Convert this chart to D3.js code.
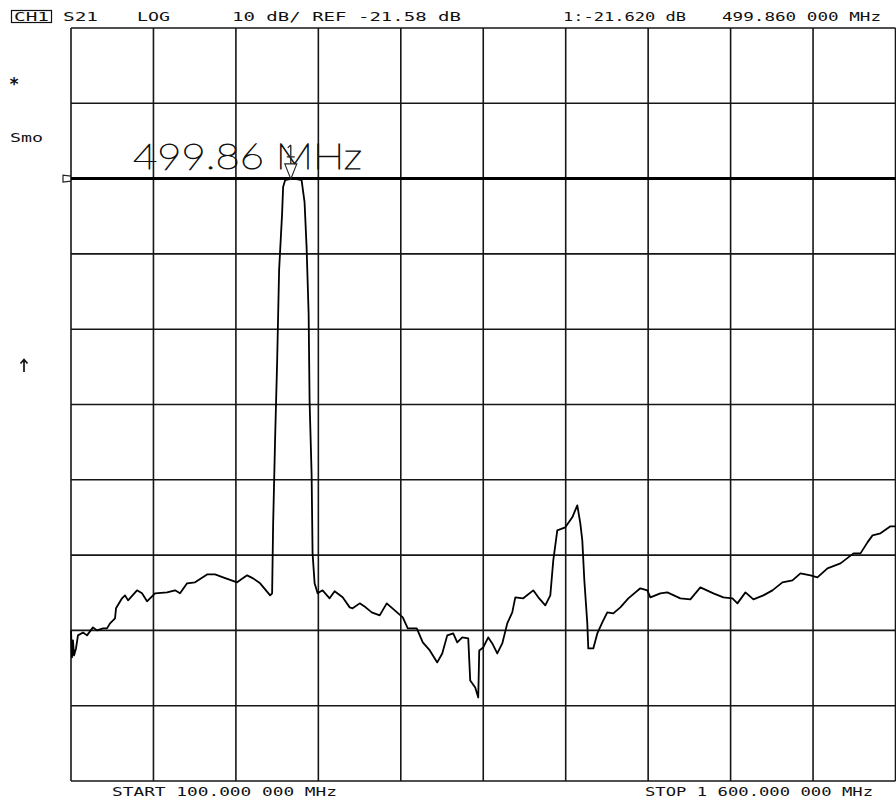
<!DOCTYPE html>
<html>
<head>
<meta charset="utf-8">
<script src="https://cdn.jsdelivr.net/npm/d3@7"></script>
<style>
  html, body { margin: 0; padding: 0; background: #fff; }
  svg { display: block; }
  .mono { font-family: "DejaVu Sans Mono", "Liberation Mono", monospace; fill: #111; }
</style>
</head>
<body>
<svg id="chart" width="896" height="802"></svg>
<script>
// S21 transmission sweep, 100 MHz to 1600 MHz, log magnitude (dB)
const freqMHz = [
  100, 101.8, 103.6, 105.5, 109.1, 112.7, 121.8, 129.1, 140.0, 147.3,
  158.3, 165.5, 171.0, 180.1, 181.9, 192.8, 198.3, 203.8, 220.1, 229.2,
  238.3, 252.9, 274.8, 289.3, 298.4, 311.2, 325.7, 347.6, 362.1, 376.7,
  402.2, 420.4, 431.3, 444.1, 462.3, 465.9, 467.7, 471.4, 475.0, 478.6,
  484.1, 485.9, 489.6, 499.9, 510.4, 519.5, 524.9, 528.6, 532.3, 534.1,
  537.7, 539.5, 543.2, 548.6, 557.7, 570.5, 579.6, 594.2, 607.0, 612.4,
  625.2, 636.1, 647.1, 661.6, 674.4, 689.0, 703.6, 712.7, 729.1, 740.0,
  752.8, 766.3, 775.4, 784.5, 795.4, 802.7, 811.8, 822.7, 826.3, 835.4,
  840.9, 842.7, 850.0, 859.1, 866.4, 875.5, 884.6, 893.7, 902.8, 908.3,
  922.8, 941.0, 950.1, 962.9, 972.0, 977.4, 984.7, 999.3, 1012.0, 1021.1,
  1026.6, 1030.2, 1033.9, 1039.3, 1041.1, 1050.2, 1057.5, 1066.6, 1075.7, 1086.6,
  1099.4, 1113.9, 1135.8, 1148.5, 1154.0, 1172.2, 1184.9, 1208.6, 1226.8, 1245.0,
  1268.7, 1286.9, 1303.3, 1312.4, 1327.0, 1341.5, 1359.7, 1376.1, 1394.3, 1412.5,
  1427.1, 1445.3, 1458.0, 1476.2, 1499.9, 1523.6, 1536.3, 1549.0, 1558.2, 1572.7,
  1590.9, 1600
];
const s21dB = [
  -81.58, -85.17, -82.91, -84.90, -83.97, -82.24, -81.85, -82.24, -81.18, -81.58,
  -81.31, -81.31, -80.65, -79.98, -78.65, -77.32, -76.93, -77.59, -76.26, -76.66,
  -77.72, -76.66, -76.53, -76.26, -76.66, -75.33, -75.20, -74.14, -74.14, -74.54,
  -75.20, -74.27, -74.67, -75.33, -76.93, -76.66, -67.63, -55.93, -45.96, -33.74,
  -26.16, -22.71, -21.78, -21.62, -21.65, -21.78, -24.70, -30.68, -39.45, -51.28,
  -60.71, -71.35, -75.33, -76.66, -76.26, -77.32, -76.39, -77.19, -78.52, -78.65,
  -77.99, -78.52, -79.19, -79.58, -77.99, -78.92, -79.85, -81.31, -81.31, -83.17,
  -84.24, -85.83, -84.64, -82.24, -81.98, -83.17, -82.51, -82.64, -88.22, -89.16,
  -90.49, -84.24, -83.84, -82.51, -83.31, -84.64, -83.31, -80.65, -79.19, -77.19,
  -77.32, -76.26, -77.19, -78.25, -76.93, -72.28, -68.29, -67.89, -66.56, -64.97,
  -67.36, -69.62, -74.94, -80.65, -83.97, -83.97, -81.98, -80.52, -79.19, -79.32,
  -78.52, -77.32, -75.99, -76.26, -77.19, -76.66, -76.53, -77.32, -77.46, -75.86,
  -76.66, -77.19, -77.32, -77.99, -76.53, -77.46, -76.93, -76.26, -75.20, -74.93,
  -74.00, -74.27, -74.54, -73.34, -72.68, -71.35, -71.35, -69.89, -68.96, -68.69,
  -67.76, -67.76
];

// Display settings
const startMHz = 100, stopMHz = 1600;
const refDB = -21.58, dBPerDiv = 10, refPosDiv = 8, nDiv = 10;
const markerMHz = 499.86, markerDB = -21.62;

// Graticule positions
const freqGrid = [100, 250, 400, 550, 700, 850, 1000, 1150, 1300, 1450, 1600];
const topDB = refDB + (nDiv - refPosDiv) * dBPerDiv;
const dbGrid = [0,1,2,3,4,5,6,7,8,9,10].map(i => topDB - i * dBPerDiv);

// Annotation texts
const headerTexts = [
  { t: "S21", x: 63, w: 35 },
  { t: "LOG", x: 137, w: 33 },
  { t: "10 dB/ REF -21.58 dB", x: 232, w: 229 },
  { t: "1:-21.620 dB", x: 563, w: 123 },
  { t: "499.860 000 MHz", x: 722, w: 159 }
];
const footerTexts = [
  { t: "START 100.000 000 MHz", x: 112, w: 225 },
  { t: "STOP 1 600.000 000 MHz", x: 645, w: 228 }
];

const svg = d3.select("#chart");
const L = 71, R = 895.5, T = 28, B = 781;

const x = d3.scaleLinear().domain([startMHz, stopMHz]).range([L, R]);
const y = d3.scaleLinear().domain([topDB, topDB - nDiv * dBPerDiv]).range([T, B]);

// graticule
const grid = svg.append("g").attr("stroke", "#161616").attr("stroke-width", 1.6);
grid.selectAll("line.v").data(freqGrid).join("line")
  .attr("x1", d => x(d)).attr("x2", d => x(d))
  .attr("y1", T).attr("y2", B);
grid.selectAll("line.h").data(dbGrid).join("line")
  .attr("x1", L).attr("x2", R)
  .attr("y1", d => y(d)).attr("y2", d => y(d));

// reference line
svg.append("line")
  .attr("x1", L).attr("x2", R)
  .attr("y1", y(refDB)).attr("y2", y(refDB))
  .attr("stroke", "#000").attr("stroke-width", 3);

// reference position pointer on the left edge
const ry = y(refDB);
svg.append("path")
  .attr("d", `M${L},${ry - 2.5} L${L - 8},${ry - 3.5} L${L - 8},${ry + 3.5} L${L},${ry + 2.5}`)
  .attr("fill", "none").attr("stroke", "#222").attr("stroke-width", 1.2);

// trace
const pts = freqMHz.map((f, i) => [f, s21dB[i]]);
svg.append("path")
  .datum(pts)
  .attr("d", d3.line().x(d => x(d[0])).y(d => y(d[1])))
  .attr("fill", "none")
  .attr("stroke", "#000")
  .attr("stroke-width", 1.8)
  .attr("stroke-linejoin", "round");

// marker readout
svg.append("text")
  .attr("x", 133).attr("y", 169)
  .attr("font-family", "Lato, 'DejaVu Sans', sans-serif")
  .attr("font-weight", 100)
  .attr("font-size", 36)
  .attr("fill", "#111")
  .attr("stroke", "#111").attr("stroke-width", 0.9)
  .attr("textLength", 229).attr("lengthAdjust", "spacingAndGlyphs")
  .text(markerMHz.toFixed(2) + " MHz");

// marker symbol: open triangle with the marker number drawn as strokes above it
const mx = x(markerMHz), my = y(markerDB);
svg.append("path")
  .attr("d", `M${mx - 6},${my - 15} L${mx + 6},${my - 15} L${mx},${my} Z`)
  .attr("fill", "none").attr("stroke", "#222").attr("stroke-width", 1.1);
svg.append("path")
  .attr("d", `M${mx},${my - 34} L${mx},${my - 15} M${mx - 3},${my - 31} L${mx},${my - 34} M${mx - 4},${my - 22} L${mx + 4},${my - 22}`)
  .attr("fill", "none").attr("stroke", "#222").attr("stroke-width", 1.3);

// header
svg.append("rect").attr("x", 11.5).attr("y", 10.5).attr("width", 40).attr("height", 12)
  .attr("fill", "none").attr("stroke", "#111").attr("stroke-width", 1.2);
svg.append("text").attr("class", "mono").attr("x", 14).attr("y", 21)
  .attr("font-size", 13).attr("textLength", 35).attr("lengthAdjust", "spacingAndGlyphs").text("CH1");
svg.selectAll("text.hdr").data(headerTexts).join("text")
  .attr("class", "mono hdr")
  .attr("x", d => d.x).attr("y", 21)
  .attr("font-size", 13)
  .attr("textLength", d => d.w).attr("lengthAdjust", "spacingAndGlyphs")
  .text(d => d.t);

// left status annotations
svg.append("text").attr("class", "mono").attr("x", 9).attr("y", 90).attr("font-size", 17).attr("font-weight", "bold").text("*");
svg.append("text").attr("class", "mono").attr("x", 10).attr("y", 142)
  .attr("font-size", 13).attr("textLength", 33).attr("lengthAdjust", "spacingAndGlyphs").text("Smo");
// "↑" status indicator, drawn as strokes
svg.append("path")
  .attr("d", "M24,359 L24,372 M20.5,363.5 L24,359.5 L27.5,363.5")
  .attr("fill", "none").attr("stroke", "#111").attr("stroke-width", 1.7);

// footer
svg.selectAll("text.ftr").data(footerTexts).join("text")
  .attr("class", "mono ftr")
  .attr("x", d => d.x).attr("y", 796)
  .attr("font-size", 13)
  .attr("textLength", d => d.w).attr("lengthAdjust", "spacingAndGlyphs")
  .text(d => d.t);
</script>
</body>
</html>
